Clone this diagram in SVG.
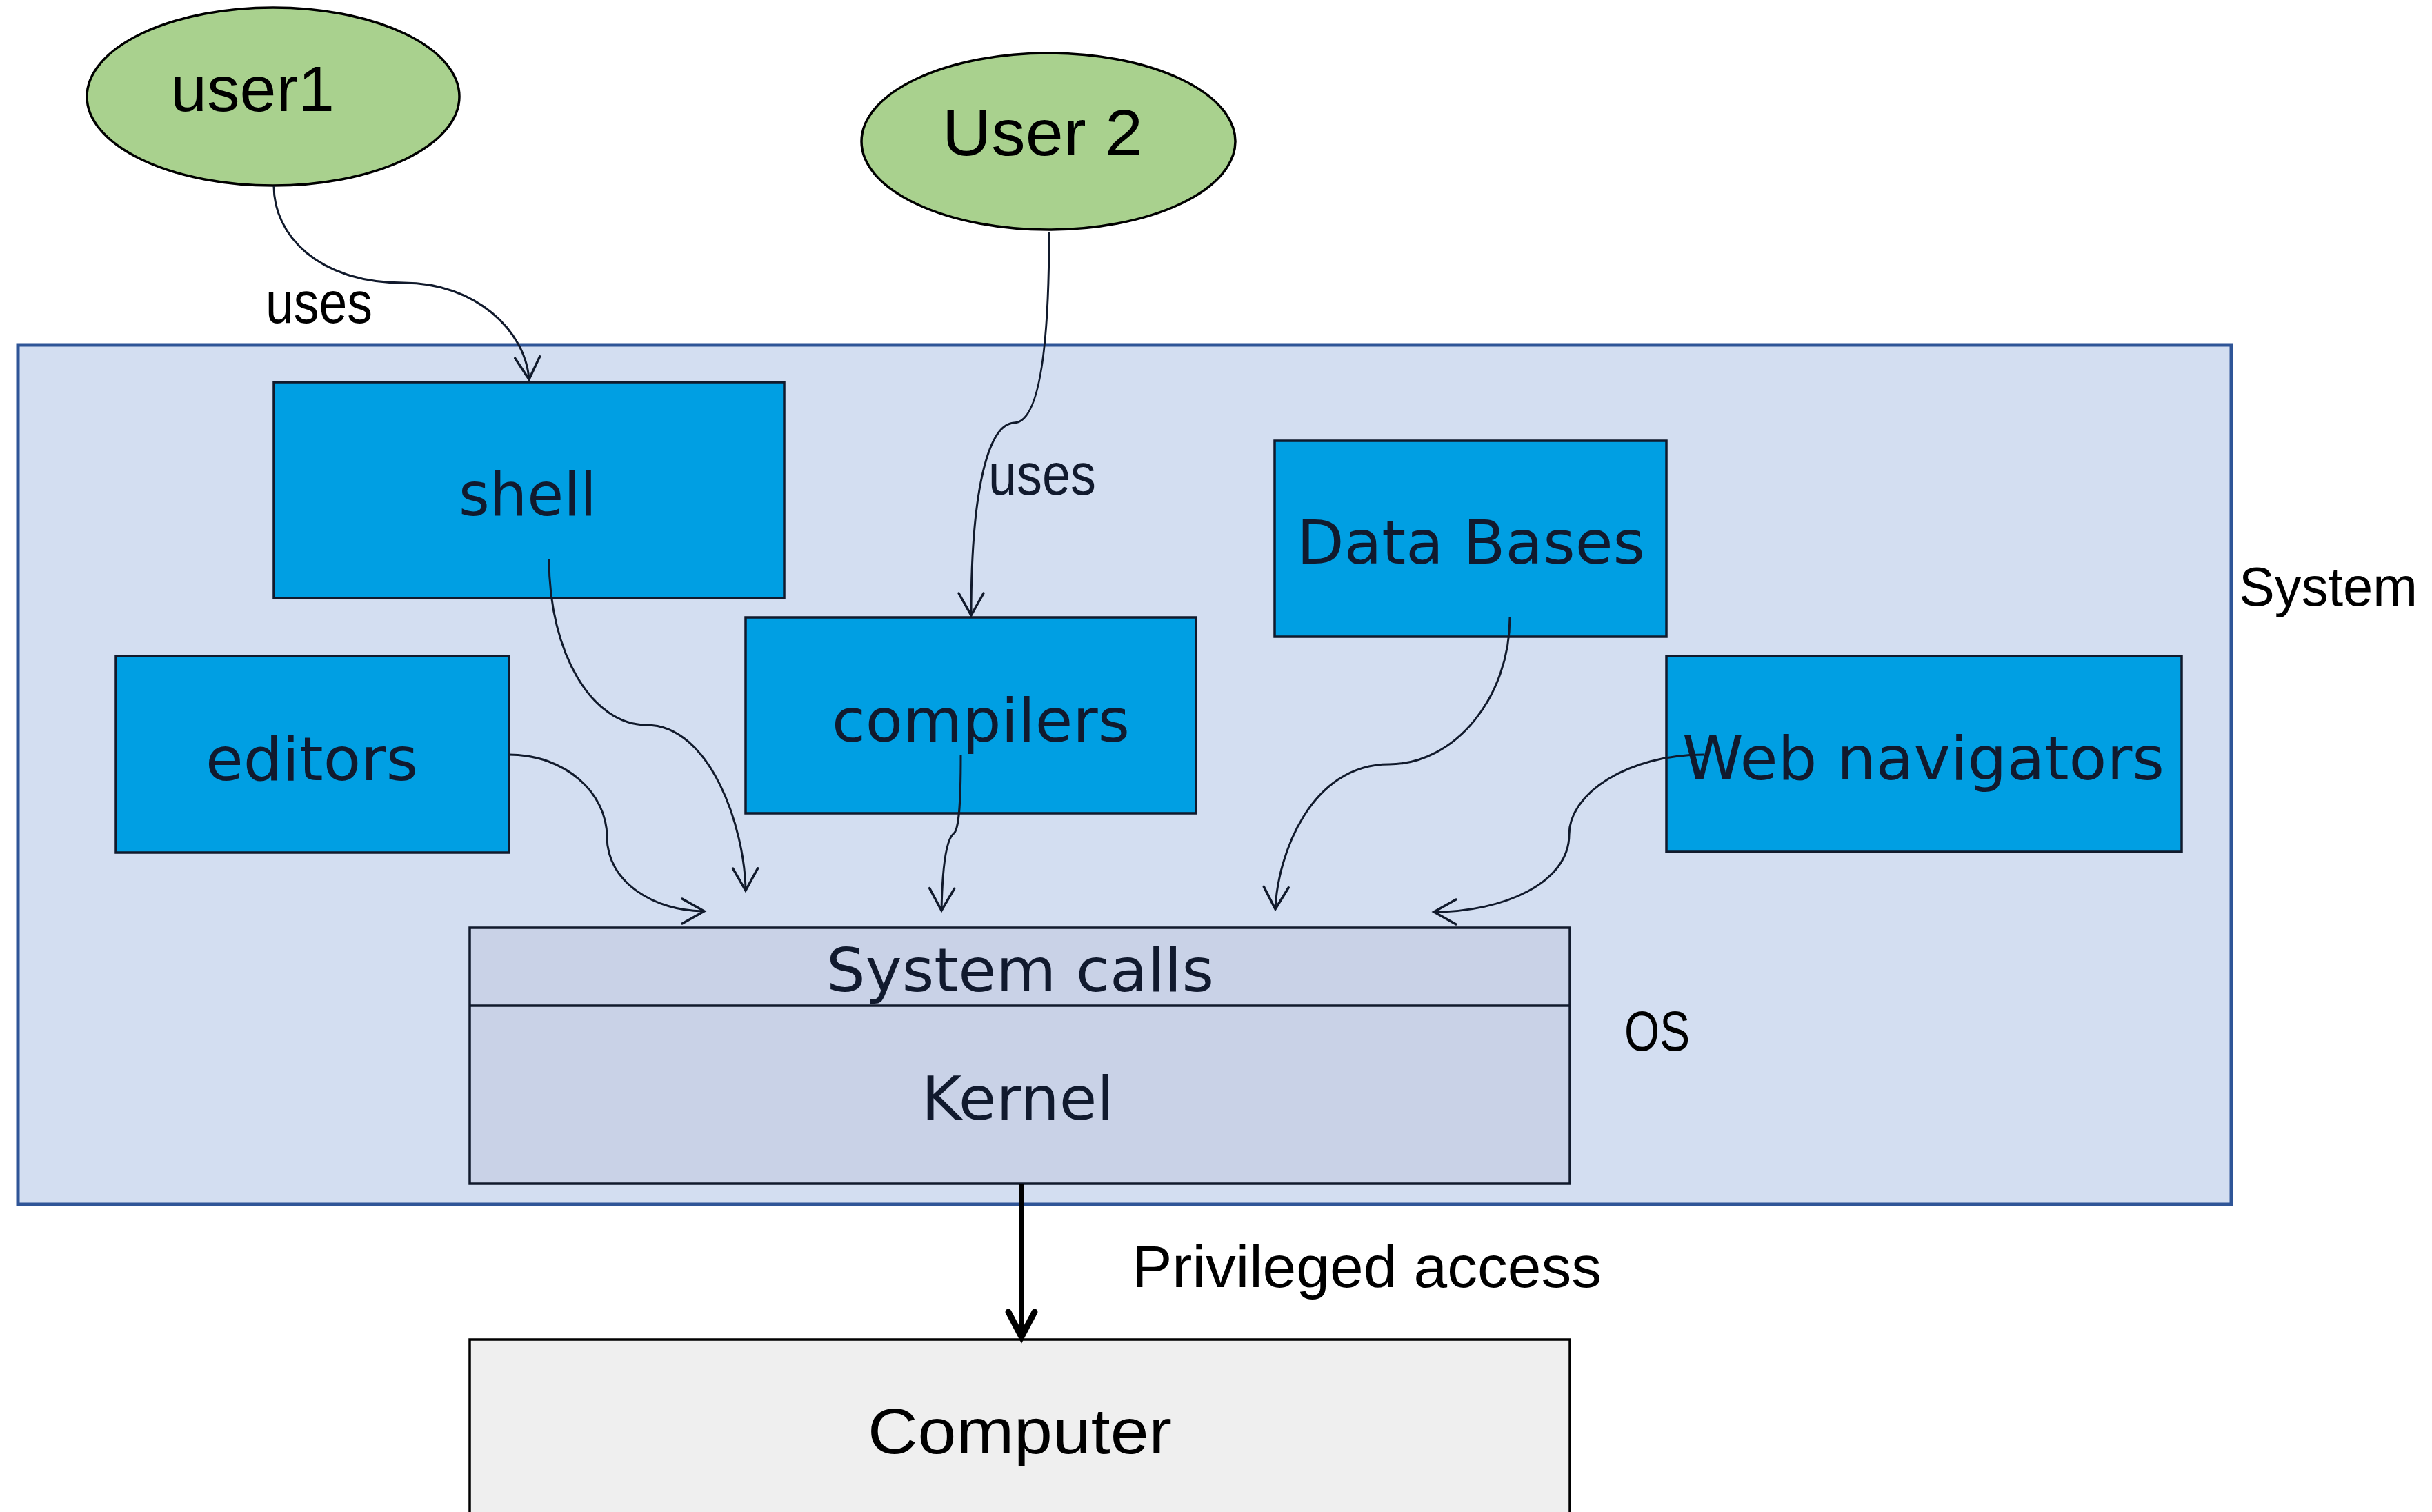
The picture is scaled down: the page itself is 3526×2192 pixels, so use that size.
<svg xmlns="http://www.w3.org/2000/svg" width="3526" height="2192" viewBox="0 0 3526 2192">
  <style>
    .sys { fill: #d3def1; stroke: #2f5597; stroke-width: 5; }
    .app { fill: #009fe3; stroke: #111a2c; stroke-width: 3.5; }
    .os { fill: #c9d2e7; stroke: #111a2c; stroke-width: 3.5; }
    .hw { fill: #efefef; stroke: #000; stroke-width: 3.5; }
    .user { fill: #a9d18e; stroke: #000; stroke-width: 3.5; }
    .vt { font-family: "DejaVu Sans", Verdana, sans-serif; font-size: 88px; fill: #111a2e; }
    .ct { font-family: "Liberation Sans", Arial, sans-serif; fill: #000; }
    .edge { fill: none; stroke: #111a2c; stroke-width: 3; }
    .thick { fill: none; stroke: #000; stroke-width: 8; }
  </style>
  <defs>
    <marker id="open" markerUnits="userSpaceOnUse" markerWidth="80" markerHeight="80" viewBox="-40 -40 80 80" refX="0" refY="0" orient="auto" overflow="visible">
      <path d="M-32,-18 L0,0 L-32,18" fill="none" stroke="#111a2c" stroke-width="3.5" stroke-linecap="round" stroke-linejoin="miter"/>
    </marker>
    <marker id="bold" markerUnits="userSpaceOnUse" markerWidth="80" markerHeight="80" viewBox="-40 -40 80 80" refX="0" refY="0" orient="auto" overflow="visible">
      <path d="M-36,-19 L0,0 L-36,19" fill="none" stroke="#000" stroke-width="9" stroke-linecap="round" stroke-linejoin="miter"/>
    </marker>
  </defs>

  <rect width="3526" height="2192" fill="#fff"/>

  <!-- system frame -->
  <g id="system">
    <rect class="sys" x="26" y="500" width="3209" height="1246"/>
    <text class="ct" x="3246" y="878" font-size="80" textLength="259" lengthAdjust="spacingAndGlyphs">System</text>
  </g>

  <!-- users -->
  <g id="user1">
    <ellipse class="user" cx="396" cy="140" rx="270" ry="129"/>
    <text class="ct" x="247" y="161" font-size="92" textLength="238" lengthAdjust="spacingAndGlyphs">user1</text>
  </g>
  <g id="user2">
    <ellipse class="user" cx="1520" cy="205" rx="271" ry="128"/>
    <text class="ct" x="1366" y="225" font-size="94" textLength="291" lengthAdjust="spacingAndGlyphs">User 2</text>
  </g>

  <!-- applications -->
  <g id="shell">
    <rect class="app" x="397" y="554" width="740" height="313"/>
    <text class="vt" x="665" y="747" textLength="200" lengthAdjust="spacingAndGlyphs">shell</text>
  </g>
  <g id="compilers">
    <rect class="app" x="1081" y="895" width="653" height="284"/>
    <text class="vt" x="1206" y="1075" textLength="432" lengthAdjust="spacingAndGlyphs">compilers</text>
  </g>
  <g id="databases">
    <rect class="app" x="1848" y="639" width="568" height="284"/>
    <text class="vt" x="1880" y="817" textLength="505" lengthAdjust="spacingAndGlyphs">Data Bases</text>
  </g>
  <g id="editors">
    <rect class="app" x="168" y="951" width="570" height="285"/>
    <text class="vt" x="298" y="1131" textLength="308" lengthAdjust="spacingAndGlyphs">editors</text>
  </g>
  <g id="webnav">
    <rect class="app" x="2416" y="951" width="747" height="284"/>
    <text class="vt" x="2439" y="1130" textLength="699" lengthAdjust="spacingAndGlyphs">Web navigators</text>
  </g>

  <!-- operating system -->
  <g id="os">
    <rect class="os" x="681" y="1345" width="1595" height="371"/>
    <line x1="681" y1="1458" x2="2276" y2="1458" stroke="#111a2c" stroke-width="3.5"/>
    <text class="vt" x="1198" y="1437" textLength="562" lengthAdjust="spacingAndGlyphs">System calls</text>
    <text class="vt" x="1336" y="1623" textLength="279" lengthAdjust="spacingAndGlyphs">Kernel</text>
    <text class="ct" x="2355" y="1523" font-size="81" textLength="95" lengthAdjust="spacingAndGlyphs">OS</text>
  </g>

  <!-- hardware -->
  <g id="computer">
    <rect class="hw" x="681" y="1942" width="1595" height="300"/>
    <text class="ct" x="1258" y="2107" font-size="92" textLength="441" lengthAdjust="spacingAndGlyphs">Computer</text>
  </g>

  <!-- connectors -->
  <g id="connectors">
    <path class="edge" marker-end="url(#open)" d="M397,270 C397,340 460,410 585,410 C690,410 762,480 767,550"/>
    <path class="edge" marker-end="url(#open)" d="M1521,336 C1521,450 1515,613 1470,613 C1435,615 1408,700 1408,892"/>
    <path class="edge" marker-end="url(#open)" d="M796,810 C796,950 860,1051 937,1051 C1030,1051 1080,1200 1081,1291"/>
    <path class="edge" marker-end="url(#open)" d="M738,1094 C820,1094 880,1150 880,1213 C880,1280 950,1321 1021,1321"/>
    <path class="edge" marker-end="url(#open)" d="M1393,1095 C1393,1170 1390,1205 1382,1209 C1370,1220 1366,1270 1365,1320"/>
    <path class="edge" marker-end="url(#open)" d="M2189,895 C2189,1010 2110,1108 2014,1108 C1900,1108 1852,1240 1849,1318"/>
    <path class="edge" marker-end="url(#open)" d="M2470,1094 C2360,1094 2275,1150 2275,1210 C2275,1280 2180,1322 2079,1322"/>
    <path class="thick" marker-end="url(#bold)" d="M1481,1716 L1481,1938"/>
    <text class="ct" x="385" y="468" font-size="85" textLength="155" lengthAdjust="spacingAndGlyphs">uses</text>
    <text class="ct" x="1433" y="717" font-size="85" fill="#111a2e" textLength="156" lengthAdjust="spacingAndGlyphs" style="fill:#111a2e">uses</text>
    <text class="ct" x="1641" y="1866" font-size="85" textLength="681" lengthAdjust="spacingAndGlyphs">Privileged access</text>
  </g>
</svg>
